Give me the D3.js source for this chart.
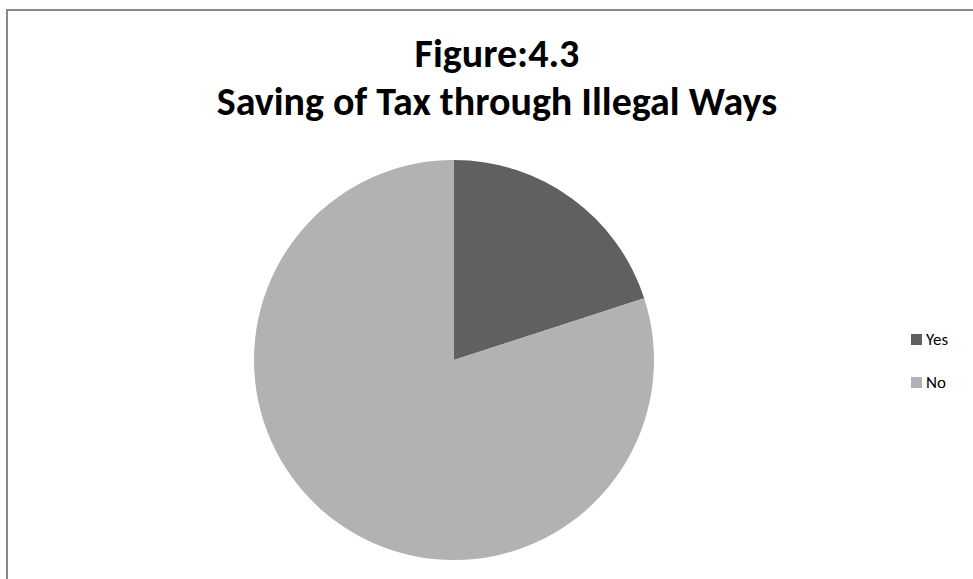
<!DOCTYPE html>
<html><head><meta charset="utf-8">
<script src="https://cdn.jsdelivr.net/npm/d3@7"></script>
<style>body{margin:0;background:#fff}svg{display:block}</style>
</head><body>
<script>
const categories = ["Yes", "No"];
const values = [20, 80];
const colors = ["#606060", "#b2b2b2"];
const titleLines = ["Figure:4.3", "Saving of Tax through Illegal Ways"];

const W = 973, H = 579;
const svg = d3.select("body").append("svg").attr("width", W).attr("height", H);
svg.append("rect").attr("x", 7).attr("y", 10).attr("width", 1000).attr("height", 620)
  .attr("fill", "#fff").attr("stroke", "#888").attr("stroke-width", 2);

const font = "Carlito, Calibri, Lato, 'Open Sans', sans-serif";
svg.selectAll("text.title").data(titleLines).join("text").attr("class", "title")
  .attr("x", 497).attr("y", (d, i) => 67 + i * 48)
  .attr("text-anchor", "middle").attr("font-family", font).attr("font-weight", "bold")
  .attr("font-size", 40).attr("fill", "#000").text(d => d);

const cx = 454, cy = 360, r = 200;
const pie = d3.pie().sort(null).value(d => d.v);
const arc = d3.arc().innerRadius(0).outerRadius(r);
const data = categories.map((c, i) => ({c, v: values[i], col: colors[i]}));
svg.append("g").attr("transform", `translate(${cx},${cy})`)
  .selectAll("path").data(pie(data)).join("path")
  .attr("d", arc).attr("fill", d => d.data.col);

const lg = svg.append("g").attr("transform", "translate(911,334)");
const items = lg.selectAll("g").data(data).join("g").attr("transform", (d, i) => `translate(0,${i * 43})`);
items.append("rect").attr("width", 11).attr("height", 11).attr("fill", d => d.col);
items.append("text").attr("x", 15).attr("y", 11).attr("font-family", font).attr("font-size", 17)
  .attr("fill", "#000").text(d => d.c);
</script>
</body></html>
